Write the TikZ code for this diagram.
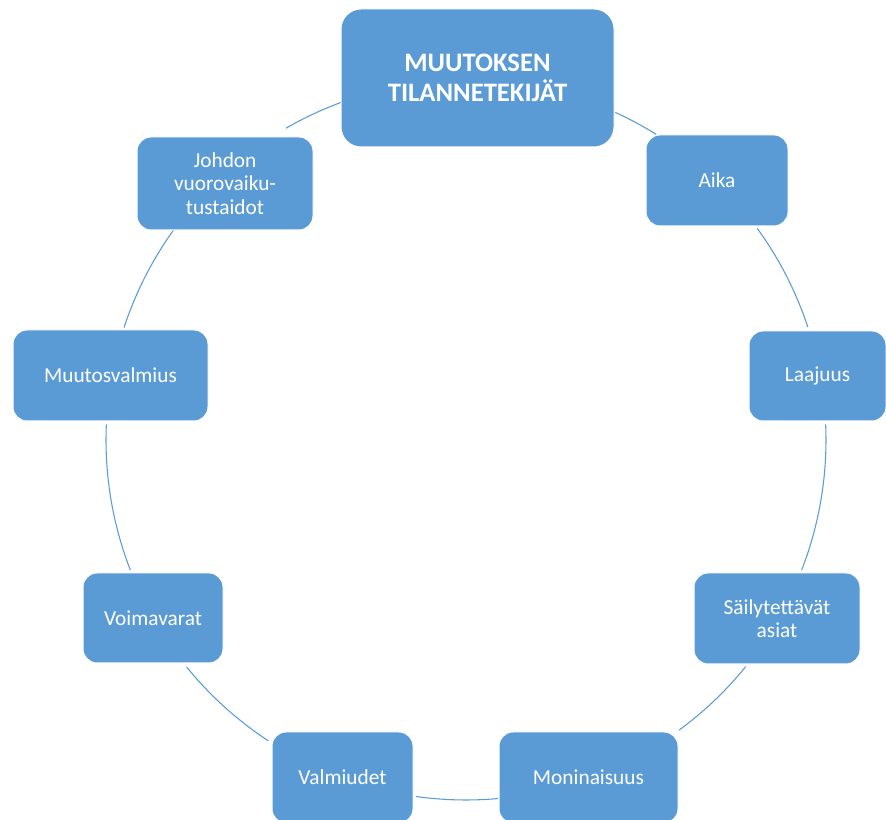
\documentclass[tikz,border=0pt]{standalone}
\usepackage{fontspec}
\setmainfont{Carlito}
\definecolor{boxblue}{HTML}{5B9BD5}
\begin{document}
\begin{tikzpicture}[x=0.75pt,y=0.75pt,
  factor/.style={fill=boxblue, draw=white, line width=0.75pt, rounded corners=10.5pt,
    text=white, font=\fontsize{16}{17.5}\selectfont, align=center, inner sep=0pt},
  core/.style={factor, rounded corners=15pt, font=\fontsize{20}{22}\selectfont\bfseries},
  link/.style={draw=boxblue, line width=0.8pt}]
\useasboundingbox (0,0) rectangle (886,820);
% centre of the cycle ring
\coordinate (O) at (466,380);

% ring segments between neighbouring boxes (clockwise from the top)
\foreach \a/\b in {65.5/58.1, 36.0/18.3, 2.5/-21.2, -39.0/-53.7, -84.9/-98.0,
                   -123.3/-140.9, -158.8/-182.5, 161.8/144.0, 120.0/110.3}
  \draw[link] ([shift={(\a:270pt)}]O) arc[start angle=\a, end angle=\b, radius=270pt];

% boxes
\node[core, minimum width=204.75pt, minimum height=103.5pt] (top) at (477.5,742) {MUUTOKSEN\\TILANNETEKIJÄT};
\node[factor, minimum width=106.5pt, minimum height=68.25pt] (aika) at (717,639.5) {Aika};
\node[factor, minimum width=102.75pt, minimum height=67.5pt] (laajuus) at (817.5,444) {Laajuus};
\node[factor, minimum width=124.5pt, minimum height=68.25pt] (sail) at (777,201.5) {Säilytettävät\\asiat};
\node[factor, minimum width=134.25pt, minimum height=68.25pt] (mon) at (588.5,42.5) {Moninaisuus};
\node[factor, minimum width=105.75pt, minimum height=68.25pt] (valm) at (342.5,42.5) {Valmiudet};
\node[factor, minimum width=105pt, minimum height=67.5pt] (voim) at (153,202) {Voimavarat};
\node[factor, minimum width=146.25pt, minimum height=68.25pt] (muut) at (110.5,444.5) {Muutosvalmius};
\node[factor, minimum width=132pt, minimum height=69.75pt] (johdon) at (225,636.5) {Johdon\\vuorovaiku-\\tustaidot};
\end{tikzpicture}
\end{document}
